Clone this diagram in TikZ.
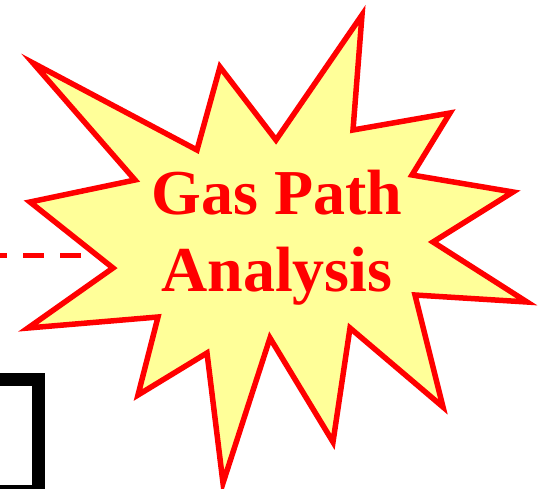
\documentclass[tikz,border=0pt]{standalone}
\usepackage{fontspec}
\newfontfamily\burstfont{Liberation Serif}
\usepackage{tikz}
\definecolor{bred}{HTML}{FF0000}
\definecolor{byellow}{HTML}{FFFF99}

\begin{document}
\begin{tikzpicture}[x=1pt, y=-1pt,
    burst/.style={draw=bred, fill=byellow, line width=5.5pt, line join=miter, miter limit=20},
    link/.style={draw=bred, line width=5pt, dash pattern=on 21pt off 16pt, dash phase=14pt},
    frame/.style={draw=black, line width=13pt},
    title/.style={text=bred, font=\burstfont\bfseries\fontsize{64}{76}\selectfont, inner sep=0pt}]
  \useasboundingbox (0,0) rectangle (544,489);
  \clip (0,0) rectangle (544,489);
  % black box, partly outside the picture
  \draw[frame] (-40,379.5) rectangle (38.5,491.5);
  % dashed link coming in from the left
  \coordinate (linkstart) at (0,256);
  \coordinate (linkend) at (84,256);
  \draw[link] (linkstart) -- (linkend);
  % the starburst
  \draw[burst] plot coordinates {
      (33,63) (197,150) (220,67) (276,140) (362,15) (353,130)
      (450,113) (412,175) (513,192) (433,242) (527,302) (415,295)
      (443,407) (350,328) (333,442) (270,338) (223,483) (207,353)
      (138,395) (158,317) (28,328) (113,268) (30,202) (135,180)} -- cycle;
  \node[title, anchor=base] (gas) at (277,215) {Gas Path};
  \node[title, anchor=base] (analysis) at (277,292) {Analysis};
\end{tikzpicture}
\end{document}
